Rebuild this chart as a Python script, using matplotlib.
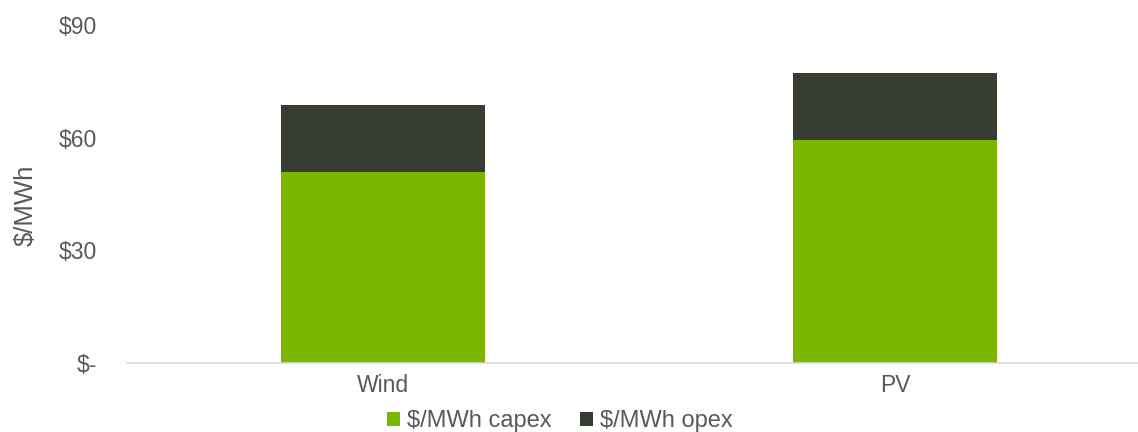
import numpy as np
import matplotlib.pyplot as plt
from matplotlib.ticker import FixedLocator

plt.rcParams['font.family'] = ['Liberation Sans', 'DejaVu Sans']

# Levelised cost split, $/MWh
technologies = ['Wind', 'PV']
capex = [50.8, 59.3]
opex = [18.0, 17.9]
ticks = [0, 30, 60, 90]
tick_labels = ['$-', '$30', '$60', '$90']

green = '#7AB800'
dark = '#363E33'
grey_text = '#595959'

fig = plt.figure(figsize=(11.38, 4.32), dpi=100)
ax = fig.add_axes([127 / 1138, 69.3 / 432, 1024 / 1138, 337.7 / 432])

x = np.arange(len(technologies))
ax.bar(x, capex, width=0.4, color=green, label='$/MWh capex')
ax.bar(x, opex, width=0.4, bottom=capex, color=dark, label='$/MWh opex')

ax.set_xlim(-0.5, 1.5)
ax.set_ylim(0, 90)
ax.yaxis.set_major_locator(FixedLocator(ticks))
ax.set_yticklabels(tick_labels)
ax.set_xticks(x)
ax.set_xticklabels(technologies)
ax.tick_params(axis='both', length=0, labelsize=16.5, labelcolor=grey_text)
ax.tick_params(axis='y', pad=21.6)
ax.tick_params(axis='x', pad=8)

for side in ['top', 'right', 'left']:
    ax.spines[side].set_visible(False)
ax.spines['bottom'].set_color('#D9D9D9')
ax.spines['bottom'].set_linewidth(1.2)

ax.set_ylabel('$/MWh', fontsize=18.5, color=grey_text, labelpad=15)
ax.yaxis.label.set_y(0.465)

fig.legend(loc='center', bbox_to_anchor=(560 / 1138, 11 / 432), ncol=2,
           frameon=False, fontsize=17, labelcolor=grey_text,
           handlelength=0.55, handleheight=0.55, handletextpad=0.3,
           columnspacing=1.2, borderaxespad=0, borderpad=0.2)

fig.savefig('out.png', dpi=100)
